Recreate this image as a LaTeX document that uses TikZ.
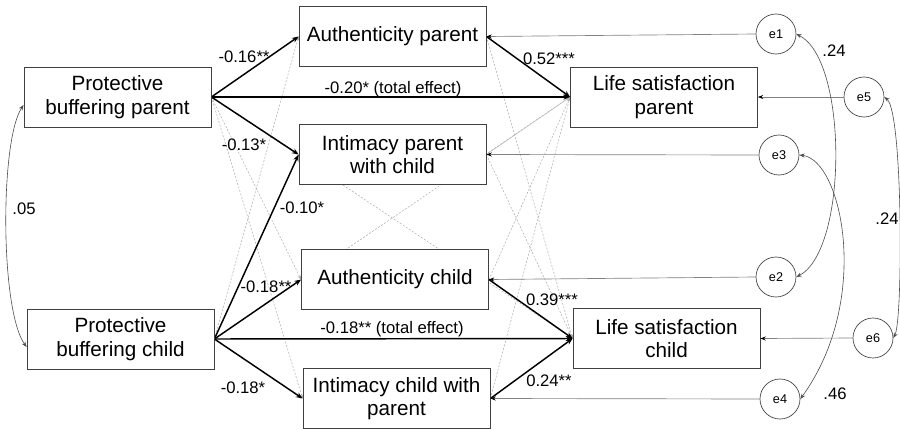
\documentclass[tikz,border=0pt]{standalone}
\usepackage{fontspec}
\setmainfont{Liberation Sans}
\usetikzlibrary{arrows.meta,calc}
\pgfdeclarelayer{bg}
\pgfsetlayers{bg,main}
\begin{document}
\begin{tikzpicture}[x=0.75pt,y=-0.75pt,
 box/.style={draw=black!75,line width=0.6pt,fill=white,minimum width=140.25pt,minimum height=45pt,inner sep=0pt,align=center,font=\fontsize{15.5}{17.5}\selectfont},
 err/.style={circle,draw=black!75,line width=0.5pt,fill=white,minimum size=30pt,inner sep=0pt,font=\fontsize{9.5}{11}\selectfont},
 sig/.style={line width=1.1pt,-{Stealth[length=5pt,width=4pt]}},
 ns/.style={gray!70,line width=0.35pt,dash pattern=on 1.5pt off 1.2pt,-{Stealth[length=3pt,width=2.5pt]}},
 nssolid/.style={gray!55,line width=0.4pt,-{Stealth[length=3pt,width=2.5pt]}},
 res/.style={black!50,line width=0.5pt,-{Stealth[length=4pt,width=3pt,color=black]}},
 cov/.style={black!70,line width=0.45pt,{Stealth[length=4pt,width=3pt]}-{Stealth[length=4pt,width=3pt]}},
 lab/.style={font=\fontsize{12.5}{14}\selectfont,inner sep=0pt},
]
\clip (0,0) rectangle (900,429);

% boxes
\node[box] (PBP) at (117.5,97) {Protective\\buffering parent};
\node[box] (PBC) at (120.5,339) {Protective\\buffering child};
\node[box] (AP) at (392.5,36.5) {Authenticity parent};
\node[box] (IP) at (392.5,154.5) {Intimacy parent\\with child};
\node[box] (AC) at (395,279.5) {Authenticity child};
\node[box] (IC) at (396.5,398.5) {Intimacy child with\\parent};
\node[box] (LSP) at (664,97) {Life satisfaction\\parent};
\node[box] (LSC) at (666.5,338.5) {Life satisfaction\\child};

% error terms
\node[err] (e1) at (776,34) {e1};
\node[err] (e5) at (864,97) {e5};
\node[err] (e3) at (779,155) {e3};
\node[err] (e2) at (776,277) {e2};
\node[err] (e6) at (873,338) {e6};
\node[err] (e4) at (780,399) {e4};

\begin{pgfonlayer}{bg}
% non-significant paths
\draw[ns] (PBP.east) -- (AC.west);
\draw[ns] (PBP.east) -- (IC.west);
\draw[ns] (PBC.east) -- (AP.west);
\draw[ns] (PBP.east) -- (LSC.west);
\draw[ns] (PBC.east) -- (LSP.west);
\draw[ns] (AP.east) -- (LSC.west);
\draw[ns] (IP.east) -- (LSC.west);
\draw[ns] (AC.east) -- (LSP.west);
\draw[ns] (IC.east) -- (LSP.west);
\draw[nssolid] (IP.east) -- (LSP.west);
% significant paths
\draw[sig] (PBP.east) -- (AP.west);
\draw[sig] (PBP.east) -- (LSP.west);
\draw[sig] (PBP.east) -- (IP.west);
\draw[sig] (PBC.east) -- (IP.west);
\draw[sig] (PBC.east) -- (AC.west);
\draw[sig] (PBC.east) -- (LSC.west);
\draw[sig] (PBC.east) -- (IC.west);
\draw[sig] (AP.east) -- (LSP.west);
\draw[sig] (AC.east) -- (LSC.west);
\draw[sig] (IC.east) -- (LSC.west);
\end{pgfonlayer}

% residual arrows
\draw[res] (e1.west) -- (AP.east);
\draw[res] (e5.west) -- (LSP.east);
\draw[res] (e3.west) -- (IP.east);
\draw[res] (e2.west) -- (AC.east);
\draw[res] (e6.west) -- (LSC.east);
\draw[res] (e4.west) -- (IC.east);

% covariances
\draw[cov] ($(PBP.west)+(0,8)$) .. controls (0,140) and (0,310) .. ($(PBC.west)+(0,8)$);
\draw[cov] (e1.east) .. controls (848,60) and (848,250) .. (e2.east);
\draw[cov] (e3.east) .. controls (842,160) and (872,300) .. (e4.east);
\draw[cov] (e5.east) .. controls (903,112) and (903,320) .. (e6.east);

% labels
\node[lab] at (244,57) {-0.16**};
\node[lab] at (393,89) {-0.20* (total effect)};
\node[lab] at (244,145) {-0.13*};
\node[lab] at (302,208) {-0.10*};
\node[lab] at (266,287) {-0.18**};
\node[lab] at (392,329) {-0.18** (total effect)};
\node[lab] at (243,388) {-0.18*};
\node[lab] at (549,59) {0.52***};
\node[lab] at (552,300) {0.39***};
\node[lab] at (549,381) {0.24**};
\node[lab] at (834,51) {.24};
\node[lab] at (835,394) {.46};
\node[lab] at (887,219) {.24};
\node[lab] at (24,209) {.05};
\end{tikzpicture}
\end{document}
